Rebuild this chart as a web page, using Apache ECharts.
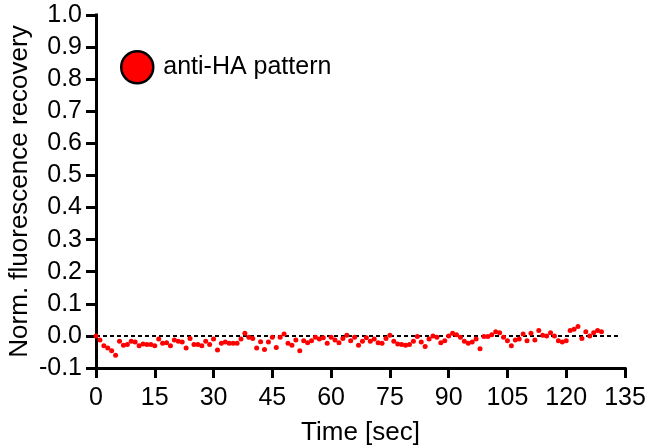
<!DOCTYPE html>
<html>
<head>
<meta charset="utf-8">
<script src="https://cdn.jsdelivr.net/npm/echarts@6/dist/echarts.min.js"></script>
<style>
  html, body { margin: 0; padding: 0; background: #ffffff; }
  #chart { width: 649px; height: 448px; }
</style>
</head>
<body>
<div id="chart"></div>
<script>
// FRAP recovery trace: one sample per second
const seriesName = 'anti-HA pattern';

const timeSec = [
  0, 1, 2, 3, 4, 5, 6, 7, 8, 9,
  10, 11, 12, 13, 14, 15, 16, 17, 18, 19,
  20, 21, 22, 23, 24, 25, 26, 27, 28, 29,
  30, 31, 32, 33, 34, 35, 36, 37, 38, 39,
  40, 41, 42, 43, 44, 45, 46, 47, 48, 49,
  50, 51, 52, 53, 54, 55, 56, 57, 58, 59,
  60, 61, 62, 63, 64, 65, 66, 67, 68, 69,
  70, 71, 72, 73, 74, 75, 76, 77, 78, 79,
  80, 81, 82, 83, 84, 85, 86, 87, 88, 89,
  90, 91, 92, 93, 94, 95, 96, 97, 98, 99,
  100, 101, 102, 103, 104, 105, 106, 107, 108, 109,
  110, 111, 112, 113, 114, 115, 116, 117, 118, 119,
  120, 121, 122, 123, 124, 125, 126, 127, 128, 129
];

const recovery = [
  0.000, -0.013, -0.031, -0.038, -0.046, -0.060, -0.017, -0.029, -0.027, -0.017,
  -0.019, -0.031, -0.025, -0.027, -0.027, -0.031, -0.010, -0.023, -0.021, -0.031,
  -0.013, -0.017, -0.019, -0.038, -0.008, -0.027, -0.027, -0.031, -0.017, -0.027,
  -0.010, -0.044, -0.023, -0.019, -0.023, -0.023, -0.023, -0.010, 0.008, -0.004,
  -0.008, -0.038, -0.018, -0.042, -0.019, -0.004, -0.036, -0.004, 0.006, -0.023,
  -0.029, -0.013, -0.046, -0.015, -0.021, -0.015, -0.004, -0.010, -0.006, -0.023,
  -0.004, -0.013, -0.021, -0.008, 0.002, -0.015, -0.004, -0.029, -0.017, -0.006,
  -0.017, -0.010, -0.021, -0.023, -0.008, 0.002, -0.017, -0.025, -0.027, -0.029,
  -0.027, -0.017, -0.002, -0.019, -0.033, -0.010, 0.000, -0.004, -0.021, -0.015,
  0.000, 0.008, 0.004, -0.004, -0.017, -0.023, -0.019, -0.010, -0.040, -0.002,
  -0.002, 0.004, 0.013, 0.010, -0.004, -0.015, -0.031, -0.013, -0.010, 0.006,
  -0.015, 0.008, -0.013, 0.017, 0.002, 0.000, 0.010, 0.000, -0.015, -0.019,
  -0.015, 0.017, 0.021, 0.029, -0.008, 0.013, 0.000, 0.010, 0.017, 0.013
];

// Baseline reference drawn as a dashed line at zero
const baselineStart = 0;
const baselineEnd = 134;
const baselineValue = 0;

const xTitle = 'Time [sec]';
const yTitle = 'Norm. fluorescence recovery';

const points = timeSec.map((t, i) => [t, recovery[i]]);

const FONT = "Arial, 'Liberation Sans', sans-serif";

const axisLineStyle = { color: '#000', width: 3, cap: 'square' };
const tickStyle = { color: '#000', width: 3 };

const chart = echarts.init(document.getElementById('chart'), null, { renderer: 'canvas' });

chart.setOption({
  animation: false,
  backgroundColor: '#ffffff',
  grid: {
    left: 96, right: 24, top: 15, bottom: 80,
    containLabel: false,
    outerBoundsMode: 'none'
  },
  legend: {
    data: [seriesName],
    left: 120,
    top: 50,
    padding: 0,
    icon: 'circle',
    itemWidth: 42,
    itemHeight: 32,
    itemStyle: { color: '#ff0000', opacity: 1, borderColor: '#000', borderWidth: 2.5 },
    textStyle: { fontFamily: FONT, fontSize: 25, color: '#000' },
    selectedMode: false
  },
  xAxis: {
    type: 'value',
    min: 0,
    max: 135,
    interval: 15,
    name: xTitle,
    nameLocation: 'middle',
    nameGap: 52,
    nameMoveOverlap: false,
    nameTextStyle: { fontFamily: FONT, fontSize: 26, color: '#000' },
    axisLine: { show: true, onZero: false, lineStyle: axisLineStyle },
    axisTick: { show: true, inside: false, length: 10, lineStyle: tickStyle },
    axisLabel: { fontFamily: FONT, fontSize: 25, color: '#000', margin: 18 },
    splitLine: { show: false }
  },
  yAxis: {
    type: 'value',
    min: -0.1,
    max: 1.0,
    interval: 0.1,
    name: yTitle,
    nameLocation: 'middle',
    nameGap: 63,
    nameMoveOverlap: false,
    nameTextStyle: { fontFamily: FONT, fontSize: 26, color: '#000' },
    axisLine: { show: true, onZero: false, lineStyle: axisLineStyle },
    axisTick: { show: true, inside: false, length: 10, lineStyle: tickStyle },
    axisLabel: {
      fontFamily: FONT, fontSize: 25, color: '#000', margin: 14,
      formatter: v => v.toFixed(1)
    },
    splitLine: { show: false }
  },
  series: [{
    name: seriesName,
    type: 'scatter',
    data: points,
    symbol: 'circle',
    symbolSize: 5,
    itemStyle: { color: '#ff0000', opacity: 1 },
    z: 5,
    markLine: {
      silent: true,
      symbol: ['none', 'none'],
      label: { show: false },
      lineStyle: { color: '#000', width: 2, type: [4, 3], opacity: 1 },
      data: [[
        { coord: [baselineStart, baselineValue] },
        { coord: [baselineEnd, baselineValue] }
      ]]
    }
  }]
});
</script>
</body>
</html>
